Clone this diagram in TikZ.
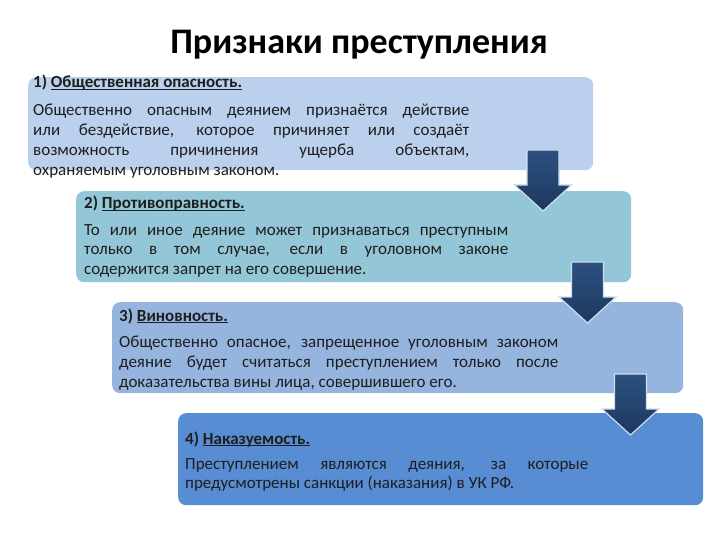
\documentclass[tikz,border=0pt]{standalone}
\usepackage{fontspec}
\setmainfont{Carlito}
\definecolor{cboxA}{RGB}{186,208,237}
\definecolor{cboxB}{RGB}{147,198,214}
\definecolor{cboxC}{RGB}{149,180,222}
\definecolor{cboxD}{RGB}{88,141,212}
\definecolor{ctext}{RGB}{30,30,30}
\definecolor{carrowT}{RGB}{44,80,128}
\definecolor{carrowB}{RGB}{30,56,94}
\definecolor{cglow}{RGB}{205,222,240}
\newcommand\ulmine[1]{\underline{\smash{#1}}}
\begin{document}
\begin{tikzpicture}[x=1bp,y=-1bp,
  box/.style={rounded corners=8bp, anchor=north west, inner sep=0pt, draw=none},
  head/.style={anchor=base west, inner sep=0pt, text=ctext,
    font=\fontsize{17bp}{20bp}\selectfont\bfseries},
  body/.style={anchor=north west, inner sep=0pt, text=ctext, align=justify,
    font=\fontsize{17bp}{19.8bp}\selectfont},
  arrowstyle/.style={top color=carrowT, bottom color=carrowB, draw=cglow, line width=1.2bp, line join=miter},
  darrow/.pic={\path[arrowstyle] (-16,0) -- (16,0) -- (16,35) -- (28.5,35) -- (0,61) -- (-28.5,35) -- (-16,35) -- cycle;}
]
\useasboundingbox[fill=white] (0,0) rectangle (720,540);

\node[anchor=center, inner sep=0pt, text=black, font=\fontsize{36bp}{42bp}\selectfont\bfseries] (title) at (359,45) {Признаки преступления};

% boxes
\node[box, fill=cboxA, minimum width=565bp, minimum height=93bp] (b1) at (28,77) {};
\node[box, fill=cboxB, minimum width=555bp, minimum height=91bp] (b2) at (76,191) {};
\node[box, fill=cboxC, minimum width=571bp, minimum height=91bp] (b3) at (112,302) {};
\node[box, fill=cboxD, minimum width=525bp, minimum height=92bp] (b4) at (178,413) {};

% arrows
\pic at (543,150) {darrow};
\pic at (587.5,262) {darrow};
\pic at (630.5,374) {darrow};

% texts
\node[head] (h1) at (33,88) {1) \ulmine{Общественная опасность.}};
\node[body, text width=436bp] (t1) at (33,104) {Общественно опасным деянием признаётся действие\linebreak
или бездействие, которое причиняет или создаёт\linebreak
возможность причинения ущерба объектам,\linebreak
охраняемым уголовным законом.};

\node[head] (h2) at (84,209) {2) \ulmine{Противоправность.}};
\node[body, text width=424bp] (t2) at (84,224) {То или иное деяние может признаваться преступным\linebreak
только в том случае, если в уголовном законе\linebreak
содержится запрет на его совершение.};

\node[head] (h3) at (119,321) {3) \ulmine{Виновность.}};
\node[body, text width=439bp] (t3) at (119,336) {Общественно опасное, запрещенное уголовным законом\linebreak
деяние будет считаться преступлением только после\linebreak
доказательства вины лица, совершившего его.};

\node[head] (h4) at (185,444) {4) \ulmine{Наказуемость.}};
\node[body, text width=403bp] (t4) at (185,458) {Преступлением являются деяния, за которые\linebreak
предусмотрены санкции (наказания) в УК РФ.};
\end{tikzpicture}
\end{document}
